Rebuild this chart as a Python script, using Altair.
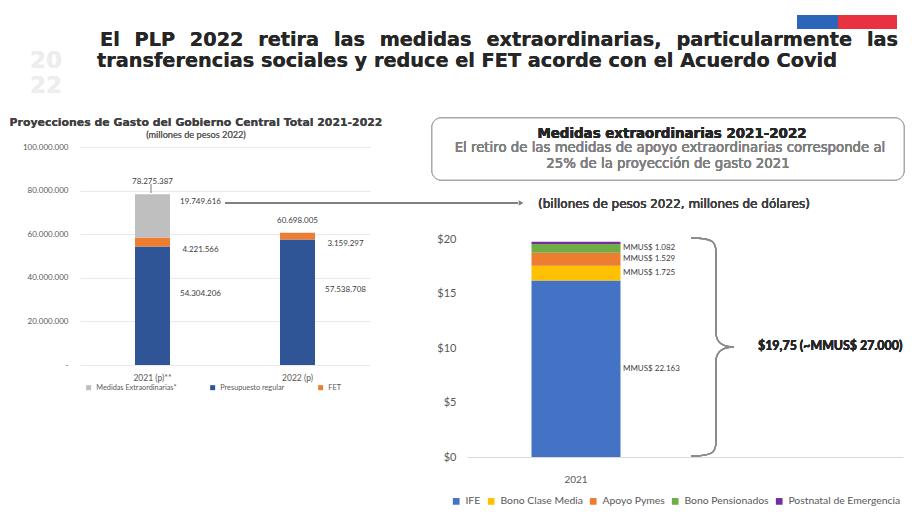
import altair as alt
import pandas as pd

# ---------------- data ----------------
anios = ["2021 (p)**", "2022 (p)"]
series_izq = ["Medidas Extraordinarias*", "Presupuesto regular", "FET"]
presupuesto = [54304206, 57538708]
fet = [4221566, 3159297]
medidas = [19749616, 0]
totales = [78275387, 60698005]

categorias_der = ["2021", " "]
medidas_der = ["IFE", "Bono Clase Media", "Apoyo Pymes", "Bono Pensionados", "Postnatal de Emergencia"]
billones = [16.2, 1.35, 1.2, 0.8, 0.2]
mmus = ["MMUS$ 22.163", "MMUS$ 1.725", "MMUS$ 1.529", "MMUS$ 1.082", ""]

colores_izq = ["#BFBFBF", "#2F5597", "#ED7D31"]
colores_der = ["#4472C4", "#FFC000", "#ED7D31", "#70AD47", "#7030A0"]


def fmt(v):
    return f"{v:,}".replace(",", ".")


rows = []
for i, a in enumerate(anios):
    lo = 0
    for s, v in [("Presupuesto regular", presupuesto[i]), ("FET", fet[i]),
                 ("Medidas Extraordinarias*", medidas[i])]:
        if v > 0:
            rows.append(dict(anio=a, serie=s, valor=v, lo=lo, hi=lo + v,
                             mid=lo + v / 2, label=fmt(v)))
        lo += v
df_izq = pd.DataFrame(rows)
df_tot = pd.DataFrame(dict(anio=anios, total=totales, label=[fmt(t) for t in totales]))

rows = []
lo = 0
for m, v, t in zip(medidas_der, billones, mmus):
    rows.append(dict(cat="2021", medida=m, valor=v, lo=lo, hi=lo + v, mid=lo + v / 2, label=t))
    lo += v
df_der = pd.DataFrame(rows)

FONT = "DejaVu Sans"
SMALL = "Lato"
GRAY = "#595959"

# ---------------- left panel ----------------
xl = alt.X("anio:N", scale=alt.Scale(domain=anios),
           axis=alt.Axis(title=None, labelAngle=0, domain=False, ticks=False, labelPadding=8,
                         labelFontSize=8.5, labelColor=GRAY, labelFont=SMALL))
yl = alt.Y("lo:Q", scale=alt.Scale(domain=[0, 100000000], nice=False),
           axis=alt.Axis(title=None, values=[0, 20000000, 40000000, 60000000, 80000000, 100000000],
                         labelExpr="datum.value == 0 ? '-' : replace(format(datum.value, ','), /,/g, '.')",
                         domain=False, ticks=False, labelPadding=12, labelFontSize=8,
                         labelColor=GRAY, labelFont=SMALL, gridColor="#E3E3E3", gridWidth=0.8))

bars_l = alt.Chart(df_izq).mark_bar(size=35).encode(
    x=xl, y=yl, y2="hi:Q",
    color=alt.Color("serie:N", scale=alt.Scale(domain=series_izq, range=colores_izq),
                    legend=alt.Legend(title=None, orient="none", legendX=5, legendY=237,
                                      direction="horizontal", symbolType="square", symbolSize=25,
                                      labelFontSize=7.3, labelColor=GRAY, labelFont=SMALL,
                                      labelOffset=4, columnPadding=32)),
)


def seg_text(serie, dy):
    return alt.Chart(df_izq).transform_filter(alt.datum.serie == serie).mark_text(
        dx=48, dy=dy, fontSize=8, font=SMALL, color="#404040").encode(
        x="anio:N", y="mid:Q", text="label:N")


tot_l = alt.Chart(df_tot).mark_text(dy=-8, baseline="bottom", fontSize=8, font=SMALL,
                                     color="#404040").encode(x="anio:N", y="total:Q", text="label:N")

tick_l = alt.Chart(df_tot).mark_rule(color="#A6A6A6").encode(
    x=alt.value(71), y=alt.value(37), y2=alt.value(46))
arrow = alt.Chart(df_tot).mark_rule(color="#808080", strokeWidth=2).encode(
    x=alt.value(145), x2=alt.value(438), y=alt.value(56))
arrow_head = alt.Chart(df_tot).mark_point(shape="triangle-right", filled=True, size=25,
                                           color="#808080", opacity=1).encode(
    x=alt.value(441), y=alt.value(56))

anchor = alt.Chart(df_tot).mark_rect(color="white").encode(
    x=alt.value(-72), x2=alt.value(-71), y=alt.value(-139), y2=alt.value(-138))
flag_b = alt.Chart(df_tot).mark_rect(color="#2C66B8").encode(
    x=alt.value(717), x2=alt.value(758), y=alt.value(-132), y2=alt.value(-118))
flag_r = alt.Chart(df_tot).mark_rect(color="#E8323F").encode(
    x=alt.value(758), x2=alt.value(817), y=alt.value(-132), y2=alt.value(-118))


def free_text(txt, x, y, **kw):
    return alt.Chart(df_tot).mark_text(**kw).encode(
        x=alt.value(x), y=alt.value(y), text=alt.value(txt))


TITLE_SIZE = 19.3
TT = dict(baseline="middle", font=FONT, fontWeight="bold", fontSize=TITLE_SIZE, color="#262626")

# approximate DejaVu Sans Bold advance widths (em) to justify the first title line
_adv = {"a": .675, "c": .593, "d": .716, "e": .678, "i": .343, "l": .343, "m": 1.042, "n": .712,
        "o": .687, "p": .716, "r": .493, "s": .595, "t": .478, "u": .712, "x": .647, ",": .380,
        "E": .683, "L": .635, "P": .733, "0": .696, "2": .696}
line1_words = ["El", "PLP", "2022", "retira", "las", "medidas", "extraordinarias,",
               "particularmente", "las"]
widths = [sum(_adv.get(ch, .65) for ch in w) * TITLE_SIZE for w in line1_words]
x_start, x_end = 20, 818
gap = (x_end - x_start - sum(widths)) / (len(line1_words) - 1)
title_layers = []
xpos = x_start
for w, wd in zip(line1_words, widths):
    title_layers.append(free_text(w, round(xpos, 1), -107, align="left", **TT))
    xpos += wd + gap
title_layers.append(free_text("transferencias sociales y reduce el FET acorde con el Acuerdo Covid",
                              17, -86, align="left", **TT))
logo1 = free_text("20", -50, -86, align="left", baseline="middle", font=FONT, fontWeight="bold",
                  fontSize=23, color="#EDEDED")
logo2 = free_text("22", -50, -61, align="left", baseline="middle", font=FONT, fontWeight="bold",
                  fontSize=23, color="#EDEDED")
ltitle = free_text("Proyecciones de Gasto del Gobierno Central Total 2021-2022", 116, -24.5,
                   align="center", baseline="middle", font=FONT, fontWeight="bold", fontSize=10.9,
                   color="#404040")
lsub = free_text("(millones de pesos 2022)", 116, -12.5, align="center", baseline="middle",
                 font=SMALL, fontSize=9.2, color=GRAY)

left = alt.layer(
    bars_l, seg_text("Presupuesto regular", -12), seg_text("FET", 8),
    seg_text("Medidas Extraordinarias*", -14), tot_l, tick_l, arrow, arrow_head,
    anchor, flag_b, flag_r, logo1, logo2, *title_layers, ltitle, lsub,
).properties(width=290, height=218)

# ---------------- right panel ----------------
xr = alt.X("cat:N", scale=alt.Scale(domain=categorias_der),
           axis=alt.Axis(title=None, labelAngle=0, domainColor="#D9D9D9", ticks=False,
                         labelPadding=17, labelFontSize=10, labelColor=GRAY, labelFont=SMALL))
yr = alt.Y("lo:Q", scale=alt.Scale(domain=[0, 310 / 10.9], nice=False, zero=True),
           axis=alt.Axis(title=None, values=[0, 5, 10, 15, 20], labelExpr="'$' + datum.value",
                         grid=False, domain=False, ticks=False, labelPadding=11, labelFontSize=11,
                         labelColor=GRAY, labelFont=SMALL))

bars_r = alt.Chart(df_der).mark_bar(size=89).encode(
    x=xr, y=yr, y2="hi:Q",
    color=alt.Color("medida:N", scale=alt.Scale(domain=medidas_der, range=colores_der),
                    legend=alt.Legend(title=None, orient="none", legendX=-16, legendY=349,
                                      direction="horizontal", symbolType="square", symbolSize=45,
                                      labelFontSize=10.4, labelColor=GRAY, labelFont=SMALL,
                                      labelOffset=4, columnPadding=5)),
)
lab_r = alt.Chart(df_der).transform_filter(alt.datum.label != "").mark_text(
    dx=47, align="left", fontSize=8, font=SMALL, color="#404040").encode(
    x="cat:N", y="mid:Q", text="label:N")

brace_path = ("M-0.19,-1 C0.02,-1 0.037,-0.96 0.037,-0.86 L0.037,-0.13 "
              "C0.037,-0.04 0.1,0 0.2,0 C0.1,0 0.037,0.04 0.037,0.13 L0.037,0.86 "
              "C0.037,0.96 0.02,1 -0.19,1")
brace = alt.Chart(df_der).mark_point(shape=brace_path, filled=False, size=218 * 218,
                                      stroke="#8C8C8C", strokeWidth=1.3, opacity=1).encode(
    x=alt.value(245), y=alt.value(200))
brace_txt = alt.Chart(df_der).mark_text(align="left", baseline="middle", font=SMALL,
                                         fontWeight="bold", fontSize=12.4, color="#262626").encode(
    x=alt.value(291), y=alt.value(199), text=alt.value("$19,75 (~MMUS$ 27.000)"))

box = alt.Chart(df_der).mark_rect(fill="white", stroke="#A6A6A6", strokeWidth=1,
                                   cornerRadius=9).encode(
    x=alt.value(-35), x2=alt.value(437), y=alt.value(-29), y2=alt.value(33))


def rtext(txt, x, y, **kw):
    return alt.Chart(df_der).mark_text(align="center", baseline="middle", **kw).encode(
        x=alt.value(x), y=alt.value(y), text=alt.value(txt))


box_t1 = rtext("Medidas extraordinarias 2021-2022", 205, -13, font=FONT, fontWeight="bold",
               fontSize=13.4, color="#262626")
box_t2 = rtext("El retiro de las medidas de apoyo extraordinarias corresponde al", 203, 0.5,
               font=FONT, fontSize=13.3, color="#7F7F7F")
box_t3 = rtext("25% de la proyección de gasto 2021", 201, 16.5, font=FONT, fontSize=13.3,
               color="#7F7F7F")
unit_t = rtext("(billones de pesos 2022, millones de dólares)", 207, 57, font=FONT, fontSize=12,
               color="#404040")

right = alt.layer(
    bars_r, lab_r, brace, brace_txt, box, box_t1, box_t2, box_t3, unit_t
).properties(width=436, height=310)

chart = alt.hconcat(left, right, spacing=97, bounds="flush").resolve_scale(
    color="independent", x="independent", y="independent"
).resolve_legend(color="independent").properties(padding=0).configure_view(stroke=None)

chart.save("out.html", embed_options={"renderer": "svg", "actions": False})
